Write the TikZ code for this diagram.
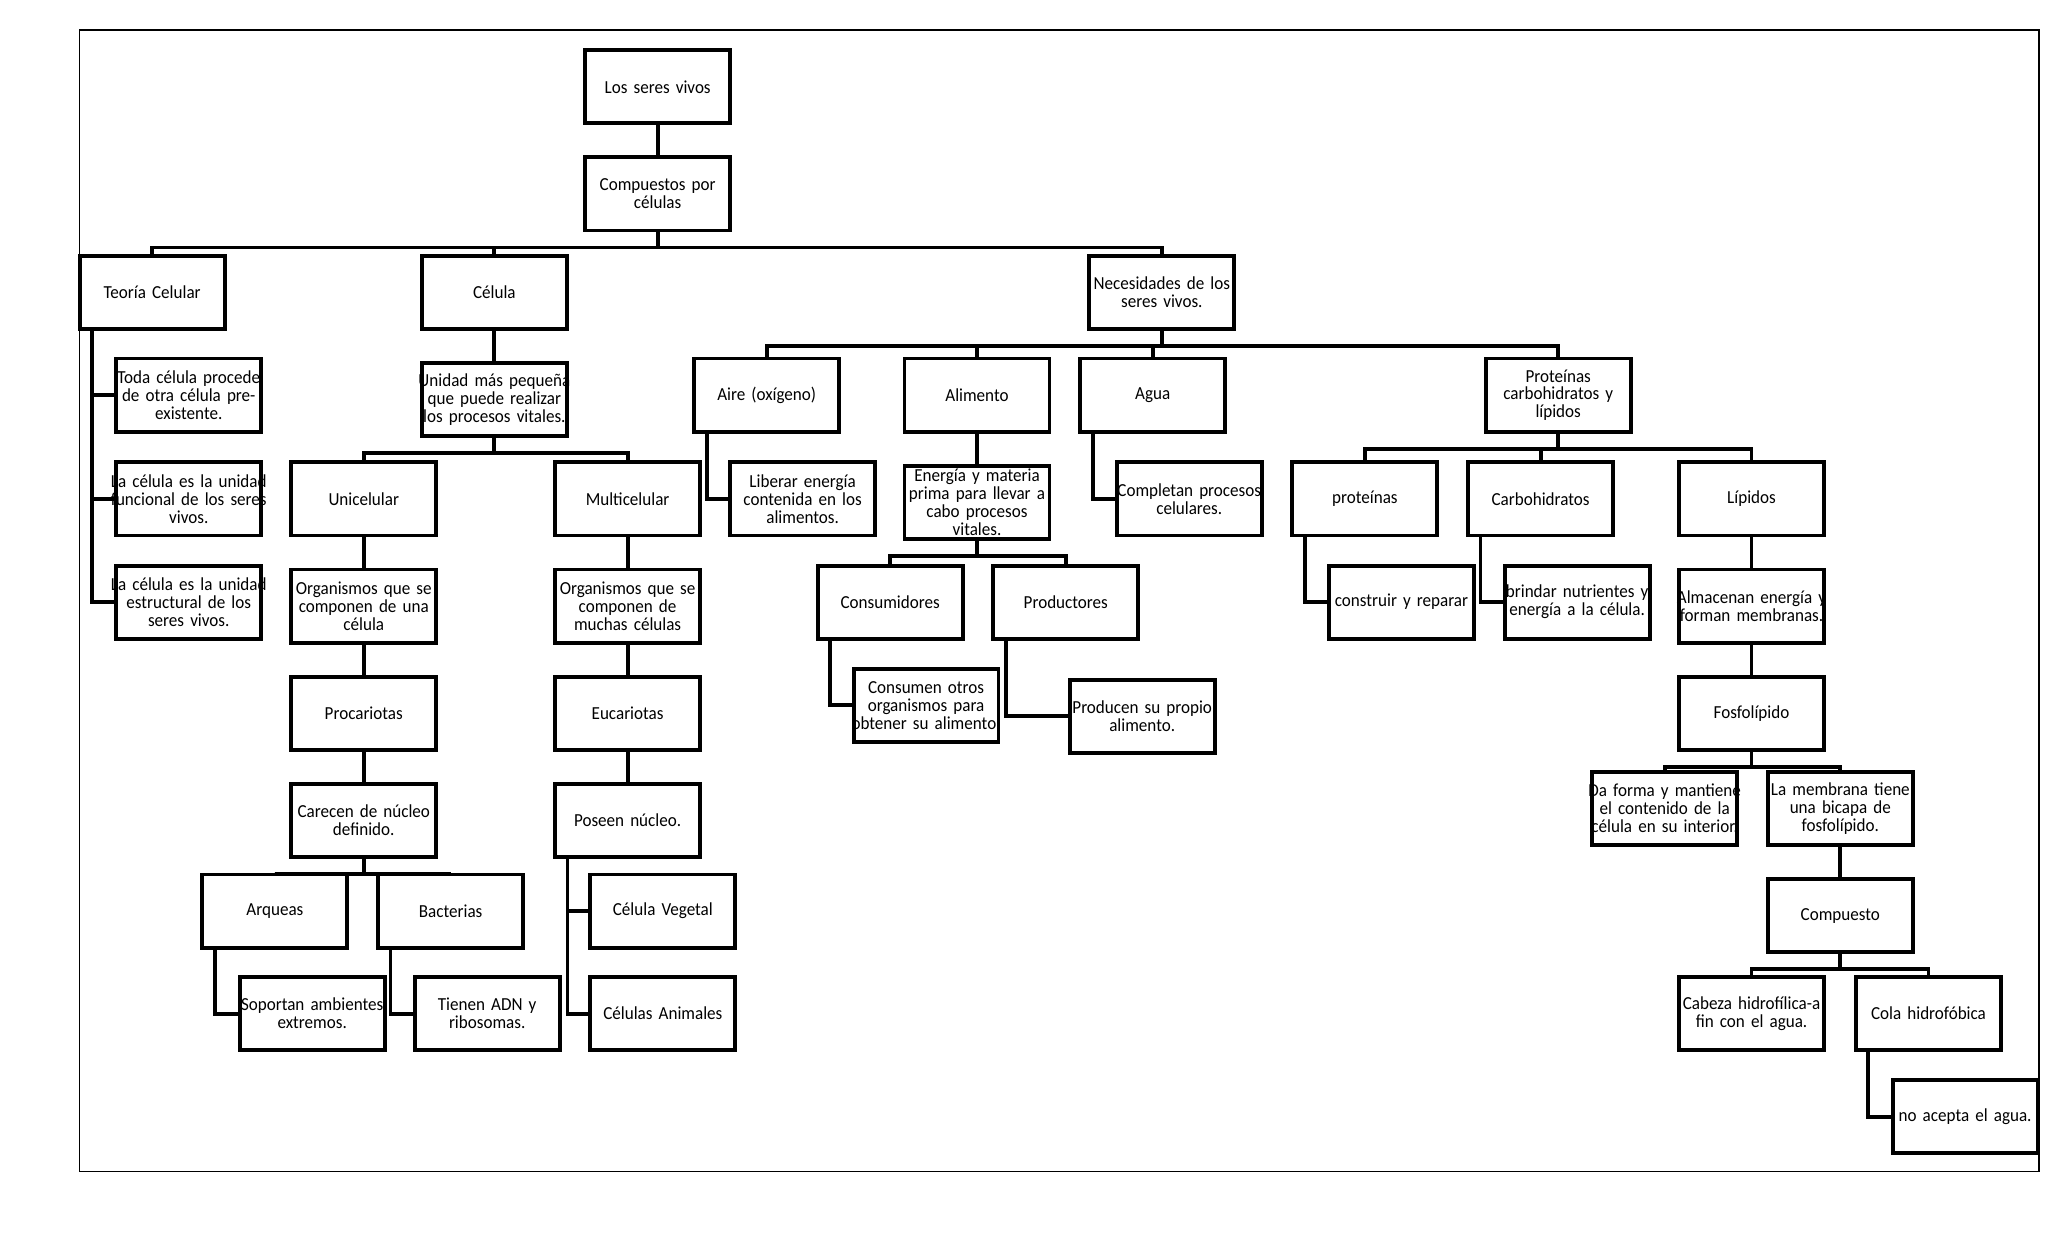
\documentclass[tikz,border=0pt]{standalone}
\usepackage{fontspec}
\setmainfont{Carlito}[FakeStretch=0.93,WordSpace=0.65]
\usepackage{tikz}
\usetikzlibrary{positioning,calc}

\tikzset{
  box/.style={draw,line width=1.7pt,minimum width=2.22cm,text width=2.9cm,
              minimum height=1.12cm,inner xsep=-0.34cm,inner ysep=0pt,align=center,
              font=\fontsize{8}{7.8}\selectfont},
  link/.style={line width=1.7pt},
}

\begin{document}
\begin{tikzpicture}[x=0.2mm,y=-0.2mm,node distance=0.46cm]
% page and frame (y grows downward)
\useasboundingbox (0,0) rectangle (1568,952);
\draw[line width=0.6pt] (61,23) rectangle (1561,897);

% root
\node[box] (seres) at (503.5,66.5) {Los seres vivos};
\node[box,below=of seres] (compuestos) {Compuestos por\\células};
\node[box] (teoria) at (116.5,224) {Teoría Celular};
\node[box] (celula) at (378.5,224) {Célula};
\node[box] (necesidades) at (889.5,224) {Necesidades de los\\seres vivos.};

% teoria celular
\node[box] (toda) at (144.5,302.5) {Toda célula procede\\de otra célula pre-\\existente.};
\node[box] (funcional) at (144.5,382) {La célula es la unidad\\funcional de los seres\\vivos.};
\node[box] (estructural) at (144.5,461) {La célula es la unidad\\estructural de los\\seres vivos.};

% celula
\node[box,below=of celula] (unidad) {Unidad más pequeña\\que puede realizar\\los procesos vitales.};
\node[box] (unicelular) at (278.5,382) {Unicelular};
\node[box] (multicelular) at (480.5,382) {Multicelular};
\node[box,below=of unicelular] (orguna) {Organismos que se\\componen de una\\célula};
\node[box,below=of orguna] (procariotas) {Procariotas};
\node[box,below=of procariotas] (carecen) {Carecen de núcleo\\definido.};
\node[box,below=of multicelular] (orgmuchas) {Organismos que se\\componen de\\muchas células};
\node[box,below=of orgmuchas] (eucariotas) {Eucariotas};
\node[box,below=of eucariotas] (poseen) {Poseen núcleo.};
\node[box] (arqueas) at (210.5,697.5) {Arqueas};
\node[box] (bacterias) at (345,697.5) {Bacterias};
\node[box] (soportan) at (239,776) {Soportan ambientes\\extremos.};
\node[box] (tienen) at (373,776) {Tienen ADN y\\ribosomas.};
\node[box] (vegetal) at (507.5,697.5) {Célula Vegetal};
\node[box] (animales) at (507.5,776) {Células Animales};

% necesidades
\node[box] (aire) at (587,302.5) {Aire (oxígeno)};
\node[box] (alimento) at (748,302.5) {Alimento};
\node[box] (agua) at (882.5,302.5) {Agua};
\node[box] (protcarb) at (1193,302.5) {Proteínas\\carbohidratos y\\lípidos};
\node[box] (liberar) at (614.5,382) {Liberar energía\\contenida en los\\alimentos.};
\node[box,below=of alimento] (energia) {Energía y materia\\prima para llevar a\\cabo procesos\\vitales.};
\node[box] (completan) at (910.5,382) {Completan procesos\\celulares.};
\node[box] (consumidores) at (681.5,461) {Consumidores};
\node[box] (productores) at (816,461) {Productores};
\node[box] (consumen) at (709,540) {Consumen otros\\organismos para\\obtener su alimento.};
\node[box] (producen) at (874.5,548.5) {Producen su propio\\alimento.};

% proteinas, carbohidratos y lipidos
\node[box] (proteinas) at (1045,382) {proteínas};
\node[box] (carbohidratos) at (1179.5,382) {Carbohidratos};
\node[box] (lipidos) at (1341,382) {Lípidos};
\node[box] (construir) at (1073,461) {construir y reparar};
\node[box] (brindar) at (1207.5,461) {brindar nutrientes y\\energía a la célula.};
\node[box,below=of lipidos] (almacenan) {Almacenan energía y\\forman membranas.};
\node[box,below=of almacenan] (fosfolipido) {Fosfolípido};
\node[box] (daforma) at (1274.5,619) {Da forma y mantiene\\el contenido de la\\célula en su interior.};
\node[box] (membrana) at (1409,619) {La membrana tiene\\una bicapa de\\fosfolípido.};
\node[box,below=of membrana] (compuesto) {Compuesto};
\node[box] (cabeza) at (1341,776) {Cabeza hidrofílica-a\\fin con el agua.};
\node[box] (cola) at (1476.5,776) {Cola hidrofóbica};
\node[box] (noacepta) at (1504.5,855) {no acepta el agua.};

% straight links
\foreach \a/\b in {seres/compuestos,celula/unidad,unicelular/orguna,orguna/procariotas,
                   procariotas/carecen,multicelular/orgmuchas,orgmuchas/eucariotas,
                   eucariotas/poseen,alimento/energia,lipidos/almacenan,
                   almacenan/fosfolipido,membrana/compuesto}
  \draw[link] (\a) -- (\b);

% buses: parent down, across, down to child
\foreach \a/\b in {compuestos/teoria,compuestos/celula,compuestos/necesidades,
                   unidad/unicelular,unidad/multicelular,
                   carecen/arqueas,carecen/bacterias,
                   necesidades/aire,necesidades/alimento,necesidades/agua,necesidades/protcarb,
                   energia/consumidores,energia/productores,
                   protcarb/proteinas,protcarb/carbohidratos,protcarb/lipidos,
                   fosfolipido/daforma,fosfolipido/membrana,
                   compuesto/cabeza,compuesto/cola}
  \draw[link] (\a.south) -- ++(0,11.5) -| (\b.north);

% side links: trunk near the left edge of the parent
\foreach \a/\b in {teoria/toda,teoria/funcional,teoria/estructural,
                   arqueas/soportan,bacterias/tienen,poseen/vegetal,poseen/animales,
                   aire/liberar,agua/completan,consumidores/consumen,productores/producen,
                   proteinas/construir,carbohidratos/brindar,cola/noacepta}
  \draw[link] ([xshift=0.22cm]\a.south west) |- (\b.west);
\end{tikzpicture}
\end{document}
